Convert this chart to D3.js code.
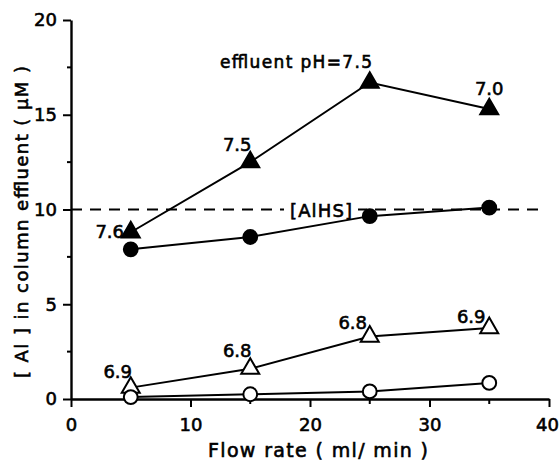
<!DOCTYPE html>
<html>
<head>
<meta charset="utf-8">
<script src="https://cdn.jsdelivr.net/npm/d3@7"></script>
<style>
  body { margin: 0; background: #fff; }
  svg { display: block; font-family: "DejaVu Sans", sans-serif; }
  text { fill: #000; stroke: #000; stroke-width: 0.6px; }
</style>
</head>
<body>
<svg width="560" height="461"></svg>
<script>
var svg = d3.select("svg");

// Data
var flowRates = [5, 15, 25, 35];
var filledTriangles = [8.8, 12.5, 16.7, 15.3];
var filledCircles = [7.9, 8.55, 9.65, 10.1];
var openTriangles = [0.6, 1.6, 3.3, 3.75];
var openCircles = [0.1, 0.25, 0.4, 0.85];
var alhsLevel = 10;
var xTicks = [0, 10, 20, 30, 40];
var yTicks = [0, 5, 10, 15, 20];
var upperPH = ["7.6", "7.5", "7.5", "7.0"];
var lowerPH = ["6.9", "6.8", "6.8", "6.9"];

// Scales
var x = d3.scaleLinear().domain([0, 40]).range([71, 549]);
var y = d3.scaleLinear().domain([0, 20]).range([399, 20]);

// Axes
var xAxis = d3.axisBottom(x).tickValues(xTicks).tickSize(8).tickPadding(11).tickSizeOuter(0);
var yAxis = d3.axisLeft(y).tickValues(yTicks).tickSize(8).tickPadding(6).tickSizeOuter(0);

var gx = svg.append("g").attr("transform", "translate(0," + y(0) + ")").call(xAxis);
var gy = svg.append("g").attr("transform", "translate(" + x(0) + ",0)").call(yAxis);

[gx, gy].forEach(function(g) {
  g.select(".domain").attr("stroke", "#000").attr("stroke-width", 2.4);
  g.selectAll(".tick line").attr("stroke", "#000").attr("stroke-width", 2);
  g.selectAll(".tick text").attr("font-size", 18)
    .attr("font-family", "DejaVu Sans, sans-serif").attr("fill", "#000");
});
// keep the last x label inside the frame
gx.selectAll(".tick text").filter(function(d) { return d === 40; }).attr("dx", -2);

// minor ticks
svg.append("g").selectAll("line").data([5, 15, 25, 35]).enter().append("line")
  .attr("x1", function(d) { return x(d); }).attr("x2", function(d) { return x(d); })
  .attr("y1", y(0)).attr("y2", y(0) + 5)
  .attr("stroke", "#000").attr("stroke-width", 2);
svg.append("g").selectAll("line").data([2.5, 7.5, 12.5, 17.5]).enter().append("line")
  .attr("x1", x(0)).attr("x2", x(0) - 4)
  .attr("y1", function(d) { return y(d); }).attr("y2", function(d) { return y(d); })
  .attr("stroke", "#000").attr("stroke-width", 2);

// Axis titles
svg.append("text")
  .attr("x", 208).attr("y", 457)
  .attr("font-size", 19)
  .attr("textLength", 220).attr("lengthAdjust", "spacing")
  .text("Flow rate ( ml/ min )");

svg.append("text")
  .attr("transform", "translate(28,378) rotate(-90)")
  .attr("font-size", 18)
  .attr("textLength", 312).attr("lengthAdjust", "spacing")
  .text("[ Al ] in  column  effluent ( μM )");

// AlHS dashed line
svg.append("line")
  .attr("x1", x(0)).attr("x2", x(40) - 5)
  .attr("y1", y(alhsLevel)).attr("y2", y(alhsLevel))
  .attr("stroke", "#000").attr("stroke-width", 2)
  .attr("stroke-dasharray", "11,8");
svg.append("rect")
  .attr("x", 284).attr("y", y(alhsLevel) - 11).attr("width", 74).attr("height", 22)
  .attr("fill", "#fff");
svg.append("text")
  .attr("x", 290).attr("y", y(alhsLevel) + 7)
  .attr("font-size", 18)
  .attr("textLength", 62).attr("lengthAdjust", "spacing")
  .text("[AlHS]");

// Series lines
var line = d3.line()
  .x(function(d) { return x(d[0]); })
  .y(function(d) { return y(d[1]); });

var series = [
  { values: filledTriangles, shape: d3.symbolTriangle, fill: "#000" },
  { values: filledCircles, shape: d3.symbolCircle, fill: "#000" },
  { values: openTriangles, shape: d3.symbolTriangle, fill: "#fff" },
  { values: openCircles, shape: d3.symbolCircle, fill: "#fff" }
];

series.forEach(function(s) {
  var pts = flowRates.map(function(f, i) { return [f, s.values[i]]; });
  svg.append("path")
    .datum(pts)
    .attr("d", line)
    .attr("fill", "none")
    .attr("stroke", "#000")
    .attr("stroke-width", 2);
});

series.forEach(function(s) {
  var pts = flowRates.map(function(f, i) { return [f, s.values[i]]; });
  var size = s.shape === d3.symbolCircle ? 150 : 140;
  svg.append("g").selectAll("path")
    .data(pts).enter().append("path")
    .attr("transform", function(d) { return "translate(" + x(d[0]) + "," + y(d[1]) + ")"; })
    .attr("d", d3.symbol().type(s.shape).size(size))
    .attr("fill", s.fill)
    .attr("stroke", "#000")
    .attr("stroke-width", 2);
});

// pH labels, upper (filled triangles)
var upperPos = [[-21, 6], [-13, -11], [0, 0], [0, -14]];
svg.append("g").selectAll("text")
  .data(flowRates.filter(function(d, i) { return i !== 2; })).enter().append("text")
  .attr("x", function(d) { var i = flowRates.indexOf(d); return x(d) + upperPos[i][0]; })
  .attr("y", function(d) { var i = flowRates.indexOf(d); return y(filledTriangles[i]) + upperPos[i][1]; })
  .attr("text-anchor", "middle").attr("font-size", 18)
  .text(function(d) { return upperPH[flowRates.indexOf(d)]; });

svg.append("text")
  .attr("x", 220).attr("y", 68)
  .attr("font-size", 17)
  .attr("textLength", 152).attr("lengthAdjust", "spacing")
  .text("effluent  pH=" + upperPH[2]);

// pH labels, lower (open triangles)
var lowerPos = [[-13, -10], [-13, -12], [-17, -7], [-18, -5]];
svg.append("g").selectAll("text")
  .data(flowRates).enter().append("text")
  .attr("x", function(d, i) { return x(d) + lowerPos[i][0]; })
  .attr("y", function(d, i) { return y(openTriangles[i]) + lowerPos[i][1]; })
  .attr("text-anchor", "middle").attr("font-size", 18)
  .text(function(d, i) { return lowerPH[i]; });
</script>
</body>
</html>
